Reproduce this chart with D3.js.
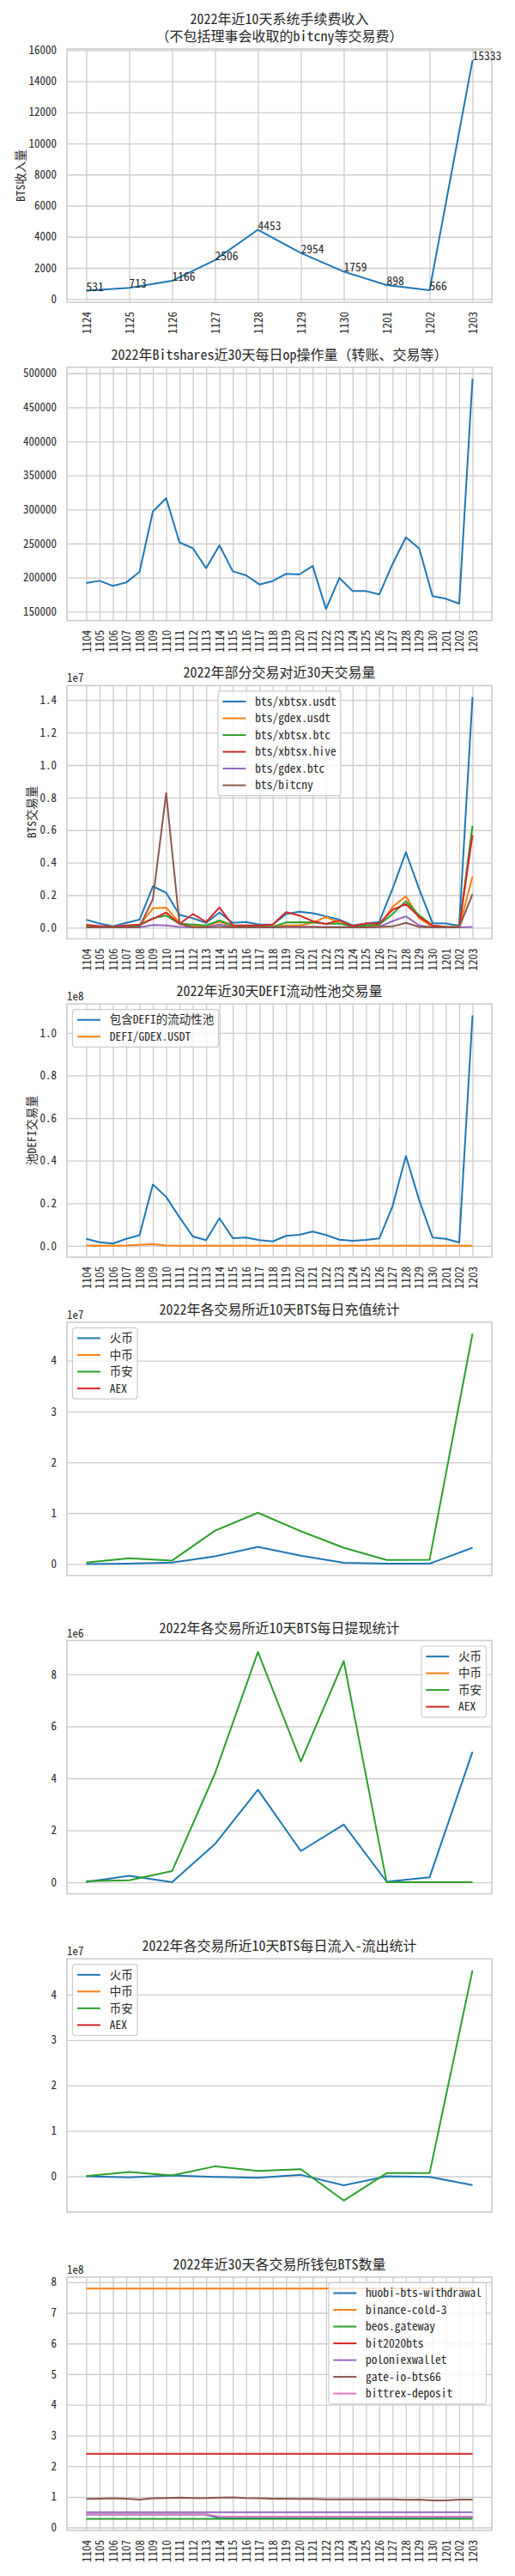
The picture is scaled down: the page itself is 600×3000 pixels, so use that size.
<!DOCTYPE html>
<html>
<head>
<meta charset="utf-8">
<script src="https://cdn.jsdelivr.net/npm/d3@7"></script>
<style>
  body { margin: 0; background: #fff; }
  svg text { font-family: "Noto Sans Mono CJK SC", "Noto Sans CJK SC", sans-serif; fill: #262626; }
</style>
</head>
<body>
<div id="chart"></div>
<script>

// ---- dates ----
var days10 = ["1124", "1125", "1126", "1127", "1128", "1129", "1130", "1201", "1202", "1203"];
var days30 = ["1104", "1105", "1106", "1107", "1108", "1109", "1110", "1111", "1112", "1113",
              "1114", "1115", "1116", "1117", "1118", "1119", "1120", "1121", "1122", "1123",
              "1124", "1125", "1126", "1127", "1128", "1129", "1130", "1201", "1202", "1203"];

// ---- 1: fee income ----
var feeIncome = [531, 713, 1166, 2506, 4453, 2954, 1759, 898, 566, 15333];

// ---- 2: daily op count ----
var opCount = [192000, 195300, 187800, 192800, 208300, 296900, 316600, 251600, 243200, 213800,
               247400, 209200, 203300, 189900, 194900, 205400, 204600, 217100, 153800, 199500,
               180200, 180200, 175200, 220100, 259100, 242700, 172700, 168900, 161800, 492000];

// ---- 3: pair volumes ----
var volXbtsxUsdt = [490000, 260000, 90000, 300000, 490000, 2540000, 2150000, 790000, 580000, 300000,
                    930000, 300000, 350000, 190000, 190000, 840000, 980000, 890000, 700000, 490000,
                    140000, 260000, 350000, 2400000, 4640000, 2360000, 280000, 260000, 120000, 14180000];
var volGdexUsdt = [100000, 50000, 50000, 80000, 140000, 1190000, 1240000, 300000, 140000, 80000,
                   370000, 50000, 50000, 50000, 80000, 140000, 140000, 300000, 660000, 300000,
                   50000, 80000, 140000, 1280000, 1930000, 580000, 50000, 50000, 20000, 3150000];
var volXbtsxBtc = [90000, 50000, 50000, 80000, 140000, 580000, 750000, 230000, 190000, 140000,
                   440000, 140000, 80000, 80000, 50000, 320000, 330000, 320000, 230000, 260000,
                   80000, 140000, 190000, 840000, 1630000, 750000, 140000, 50000, 20000, 6250000];
var volXbtsxHive = [180000, 100000, 50000, 140000, 190000, 540000, 930000, 230000, 840000, 350000,
                    1240000, 140000, 140000, 140000, 190000, 960000, 750000, 400000, 230000, 450000,
                    100000, 260000, 260000, 1100000, 1450000, 660000, 140000, 50000, 50000, 5690000];
var volGdexBtc = [20000, 20000, 20000, 20000, 20000, 160000, 140000, 50000, 20000, 20000,
                  190000, 20000, 20000, 20000, 20000, 50000, 50000, 50000, 50000, 50000,
                  20000, 20000, 50000, 400000, 700000, 140000, 20000, 20000, 20000, 50000];
var volBitcny = [20000, 20000, 20000, 20000, 50000, 1750000, 8280000, 230000, 20000, 20000,
                 50000, 20000, 20000, 20000, 20000, 50000, 50000, 50000, 20000, 20000,
                 20000, 20000, 50000, 80000, 300000, 50000, 20000, 20000, 20000, 2060000];

// ---- 4: DEFI pool volumes ----
var defiPools = [3300000, 1700000, 1100000, 3300000, 5000000, 28800000, 23000000, 13400000, 4400000, 2700000,
                 13000000, 3600000, 3900000, 2700000, 2100000, 4700000, 5200000, 6700000, 5100000, 2900000,
                 2400000, 2800000, 3500000, 18700000, 42200000, 21400000, 3900000, 3300000, 1600000, 108200000];
var defiGdexUsdt = [200000, 100000, 100000, 200000, 500000, 800000, 200000, 100000, 100000, 100000,
                    100000, 100000, 100000, 100000, 100000, 100000, 100000, 100000, 100000, 100000,
                    100000, 100000, 100000, 100000, 100000, 100000, 100000, 100000, 100000, 100000];

// ---- 5-7: exchanges (10 days) ----
var exNames = ["火币", "中币", "币安", "AEX"];
var depHuobi   = [0, 60000, 280000, 1510000, 3360000, 1620000, 220000, 60000, 60000, 3190000];
var depBinance = [280000, 1120000, 670000, 6550000, 10080000, 6440000, 3190000, 780000, 840000, 45320000];
var wdHuobi    = [10000, 250000, 0, 1470000, 3560000, 1200000, 2220000, 20000, 190000, 5020000];
var wdBinance  = [44000, 77000, 430000, 4190000, 8860000, 4650000, 8510000, 0, 0, 0];
var netHuobi   = [0, -250000, 190000, -130000, -310000, 310000, -2000000, 0, -130000, -1950000];
var netBinance = [60000, 940000, 190000, 2200000, 1200000, 1570000, -5350000, 690000, 690000, 45350000];
var noData = [];

// ---- 8: wallet balances ----
var walletNames = ["huobi-bts-withdrawal", "binance-cold-3", "beos.gateway", "bit2020bts",
                   "poloniexwallet", "gate-io-bts66", "bittrex-deposit"];
var balHuobi = [42e6, 42e6, 42e6, 42e6, 42e6, 42e6, 42e6, 42e6, 42e6, 42e6,
                31e6, 31e6, 31e6, 31e6, 31e6, 31e6, 31e6, 31e6, 31e6, 31e6,
                31e6, 31e6, 31e6, 31e6, 31e6, 31e6, 31e6, 33e6, 33e6, 33e6];
var balBinance = [779e6, 779e6, 779e6, 779e6, 779e6, 779e6, 779e6, 779e6, 779e6, 779e6,
                  779e6, 779e6, 779e6, 779e6, 779e6, 779e6, 779e6, 779e6, 779e6, 779e6,
                  779e6, 779e6, 779e6, 779e6, 779e6, 779e6, 779e6, 779e6, 779e6, 779e6];
var balBeos = [28e6, 28e6, 28e6, 28e6, 28e6, 28e6, 28e6, 28e6, 28e6, 28e6,
               28e6, 28e6, 28e6, 28e6, 28e6, 28e6, 28e6, 28e6, 28e6, 28e6,
               28e6, 28e6, 28e6, 28e6, 28e6, 28e6, 28e6, 28e6, 28e6, 28e6];
var balBit2020 = [240e6, 240e6, 240e6, 240e6, 240e6, 240e6, 240e6, 240e6, 240e6, 240e6,
                  240e6, 240e6, 240e6, 240e6, 240e6, 240e6, 240e6, 240e6, 240e6, 240e6,
                  240e6, 240e6, 240e6, 240e6, 240e6, 240e6, 240e6, 240e6, 240e6, 240e6];
var balPoloniex = [50e6, 50e6, 50e6, 50e6, 50e6, 50e6, 50e6, 50e6, 50e6, 50e6,
                   50e6, 50e6, 50e6, 50e6, 50e6, 50e6, 50e6, 50e6, 50e6, 50e6,
                   50e6, 50e6, 50e6, 50e6, 50e6, 50e6, 50e6, 50e6, 50e6, 50e6];
var balGate = [93e6, 94e6, 95e6, 94e6, 91e6, 95e6, 96e6, 97e6, 96e6, 96e6,
               97e6, 98e6, 96e6, 95e6, 94e6, 94e6, 93e6, 93e6, 92e6, 92e6,
               92e6, 92e6, 92e6, 92e6, 90e6, 91e6, 88e6, 88e6, 91e6, 91e6];
var balBittrex = [43e6, 43e6, 43e6, 43e6, 43e6, 43e6, 43e6, 43e6, 43e6, 43e6,
                  36e6, 36e6, 36e6, 36e6, 36e6, 36e6, 36e6, 36e6, 36e6, 36e6,
                  36e6, 36e6, 36e6, 36e6, 36e6, 36e6, 36e6, 36e6, 36e6, 36e6];

var C = ["#1f77b4", "#ff7f0e", "#2ca02c", "#d62728", "#9467bd", "#8c564b", "#e377c2"];

var svg = d3.select("#chart").append("svg")
  .attr("width", 600).attr("height", 3000);

var left = 78, right = 573, plotW = right - left, plotH = 295;
var top0 = 57, rowStep = 370.7;
var grid = "#cccccc";

// matplotlib style 5% margins
function padDomain(lo, hi) {
  var r = hi - lo;
  return [lo - 0.05 * r, hi + 0.05 * r];
}

function drawLegend(g, series, loc) {
  var fs = 13.5, pad = 5.4, hl = 27, htp = 10.8, rowH = 19.5, axPad = 6.5;
  var lg = g.append("g");
  var box = lg.append("rect")
    .attr("rx", 3).attr("ry", 3)
    .attr("fill", "#fff").attr("fill-opacity", 0.8)
    .attr("stroke", grid).attr("stroke-width", 1.2);
  var maxW = 0;
  series.forEach(function(s, k) {
    var cy = pad + fs / 2 + k * rowH;
    lg.append("line")
      .attr("x1", pad).attr("x2", pad + hl)
      .attr("y1", cy).attr("y2", cy)
      .attr("stroke", s.color).attr("stroke-width", 2);
    var t = lg.append("text")
      .attr("x", pad + hl + htp).attr("y", cy).attr("dy", "0.35em")
      .style("font-size", fs + "px")
      .text(s.name);
    maxW = Math.max(maxW, t.node().getComputedTextLength());
  });
  var w = pad + hl + htp + maxW + pad;
  var h = 2 * pad + series.length * rowH - (rowH - fs);
  box.attr("width", w).attr("height", h);
  var lx = axPad;
  if (loc == "upper right") lx = plotW - axPad - w;
  if (loc == "upper center") lx = (plotW - w) / 2;
  lg.attr("transform", "translate(" + lx + "," + axPad + ")");
}

function plotLines(cfg) {
  var g = svg.append("g")
    .attr("transform", "translate(" + left + "," + (top0 + cfg.row * rowStep) + ")");

  var n = cfg.days.length;
  var x = d3.scaleLinear().domain(padDomain(0, n - 1)).range([0, plotW]);

  var all = [];
  cfg.series.forEach(function(s) { s.values.forEach(function(v) { all.push(v); }); });
  var y = d3.scaleLinear().domain(padDomain(d3.min(all), d3.max(all))).range([plotH, 0]);

  // y grid + tick labels
  var yg = g.append("g")
    .call(d3.axisLeft(y).tickValues(cfg.yTicks).tickSize(-plotW).tickPadding(12)
      .tickFormat(cfg.yFormat));
  yg.select(".domain").remove();
  yg.selectAll(".tick line").attr("stroke", grid).attr("stroke-width", 1.3);
  yg.selectAll(".tick text").style("font-size", "13px").attr("fill", "#262626");

  // x grid + rotated tick labels
  if (cfg.xTicks) {
    var xg = g.append("g")
      .attr("transform", "translate(0," + plotH + ")")
      .call(d3.axisBottom(x).tickValues(d3.range(n)).tickSize(-plotH)
        .tickFormat(function(i) { return cfg.days[i]; }));
    xg.select(".domain").remove();
    xg.selectAll(".tick line").attr("stroke", grid).attr("stroke-width", 1.3);
    xg.selectAll(".tick text")
      .style("font-size", "13px").attr("fill", "#262626")
      .attr("transform", "rotate(-90)")
      .attr("x", -11).attr("y", 0).attr("dy", "0.35em")
      .style("text-anchor", "end");
  }

  // frame
  g.append("rect")
    .attr("width", plotW).attr("height", plotH)
    .attr("fill", "none").attr("stroke", grid).attr("stroke-width", 1.6);

  var line = d3.line()
    .defined(function(v) { return v != null; })
    .x(function(v, i) { return x(i); })
    .y(function(v) { return y(v); });

  cfg.series.forEach(function(s) {
    if (!s.values.length) return;
    g.append("path")
      .datum(s.values)
      .attr("fill", "none")
      .attr("stroke", s.color)
      .attr("stroke-width", 2)
      .attr("stroke-linejoin", "round")
      .attr("d", line);
  });

  if (cfg.annotate) {
    cfg.series[0].values.forEach(function(v, i) {
      g.append("text")
        .attr("x", x(i)).attr("y", y(v))
        .style("font-size", "13.5px")
        .text(v);
    });
  }

  // title
  cfg.title.forEach(function(t, k) {
    g.append("text")
      .attr("x", plotW / 2)
      .attr("y", -9 - (cfg.title.length - 1 - k) * 20)
      .style("text-anchor", "middle")
      .style("font-size", "16px")
      .text(t);
  });

  // offset text like 1e7
  if (cfg.exp) {
    g.append("text")
      .attr("x", 0).attr("y", -4)
      .style("font-size", "13px")
      .text(cfg.exp);
  }

  if (cfg.ylabel) {
    var bb = yg.node().getBBox();
    g.append("text")
      .attr("transform", "translate(" + (bb.x - 5) + "," + (plotH / 2) + ") rotate(-90)")
      .style("text-anchor", "middle")
      .style("font-size", "13.5px")
      .text(cfg.ylabel);
  }

  if (cfg.legend) drawLegend(g, cfg.series, cfg.legend);
}

function fmt(div, dec) {
  return function(v) { return (v / div).toFixed(dec); };
}

plotLines({
  row: 0, days: days10, xTicks: true, annotate: true,
  title: ["2022年近10天系统手续费收入", "（不包括理事会收取的bitcny等交易费）"],
  ylabel: "BTS收入量",
  yTicks: d3.range(0, 16001, 2000), yFormat: fmt(1, 0),
  series: [{name: "fee", color: C[0], values: feeIncome}]
});

plotLines({
  row: 1, days: days30, xTicks: true,
  title: ["2022年Bitshares近30天每日op操作量（转账、交易等）"],
  yTicks: d3.range(150000, 500001, 50000), yFormat: fmt(1, 0),
  series: [{name: "op", color: C[0], values: opCount}]
});

plotLines({
  row: 2, days: days30, xTicks: true, legend: "upper center",
  title: ["2022年部分交易对近30天交易量"], exp: "1e7",
  ylabel: "BTS交易量",
  yTicks: d3.range(0, 7.5).map(function(k) { return k * 2e6; }), yFormat: fmt(1e7, 1),
  series: [
    {name: "bts/xbtsx.usdt", color: C[0], values: volXbtsxUsdt},
    {name: "bts/gdex.usdt", color: C[1], values: volGdexUsdt},
    {name: "bts/xbtsx.btc", color: C[2], values: volXbtsxBtc},
    {name: "bts/xbtsx.hive", color: C[3], values: volXbtsxHive},
    {name: "bts/gdex.btc", color: C[4], values: volGdexBtc},
    {name: "bts/bitcny", color: C[5], values: volBitcny}
  ]
});

plotLines({
  row: 3, days: days30, xTicks: true, legend: "upper left",
  title: ["2022年近30天DEFI流动性池交易量"], exp: "1e8",
  ylabel: "池DEFI交易量",
  yTicks: d3.range(0, 5.5).map(function(k) { return k * 2e7; }), yFormat: fmt(1e8, 1),
  series: [
    {name: "包含DEFI的流动性池", color: C[0], values: defiPools},
    {name: "DEFI/GDEX.USDT", color: C[1], values: defiGdexUsdt}
  ]
});

plotLines({
  row: 4, days: days10, xTicks: false, legend: "upper left",
  title: ["2022年各交易所近10天BTS每日充值统计"], exp: "1e7",
  yTicks: [0, 1e7, 2e7, 3e7, 4e7], yFormat: fmt(1e7, 0),
  series: [
    {name: exNames[0], color: C[0], values: depHuobi},
    {name: exNames[1], color: C[1], values: noData},
    {name: exNames[2], color: C[2], values: depBinance},
    {name: exNames[3], color: C[3], values: noData}
  ]
});

plotLines({
  row: 5, days: days10, xTicks: false, legend: "upper right",
  title: ["2022年各交易所近10天BTS每日提现统计"], exp: "1e6",
  yTicks: [0, 2e6, 4e6, 6e6, 8e6], yFormat: fmt(1e6, 0),
  series: [
    {name: exNames[0], color: C[0], values: wdHuobi},
    {name: exNames[1], color: C[1], values: noData},
    {name: exNames[2], color: C[2], values: wdBinance},
    {name: exNames[3], color: C[3], values: noData}
  ]
});

plotLines({
  row: 6, days: days10, xTicks: false, legend: "upper left",
  title: ["2022年各交易所近10天BTS每日流入-流出统计"], exp: "1e7",
  yTicks: [0, 1e7, 2e7, 3e7, 4e7], yFormat: fmt(1e7, 0),
  series: [
    {name: exNames[0], color: C[0], values: netHuobi},
    {name: exNames[1], color: C[1], values: noData},
    {name: exNames[2], color: C[2], values: netBinance},
    {name: exNames[3], color: C[3], values: noData}
  ]
});

plotLines({
  row: 7, days: days30, xTicks: true, legend: "upper right",
  title: ["2022年近30天各交易所钱包BTS数量"], exp: "1e8",
  yTicks: d3.range(0, 8.5).map(function(k) { return k * 1e8; }), yFormat: fmt(1e8, 0),
  series: [
    {name: walletNames[0], color: C[0], values: balHuobi},
    {name: walletNames[1], color: C[1], values: balBinance},
    {name: walletNames[2], color: C[2], values: balBeos},
    {name: walletNames[3], color: C[3], values: balBit2020},
    {name: walletNames[4], color: C[4], values: balPoloniex},
    {name: walletNames[5], color: C[5], values: balGate},
    {name: walletNames[6], color: C[6], values: balBittrex}
  ]
});

</script>
</body>
</html>
